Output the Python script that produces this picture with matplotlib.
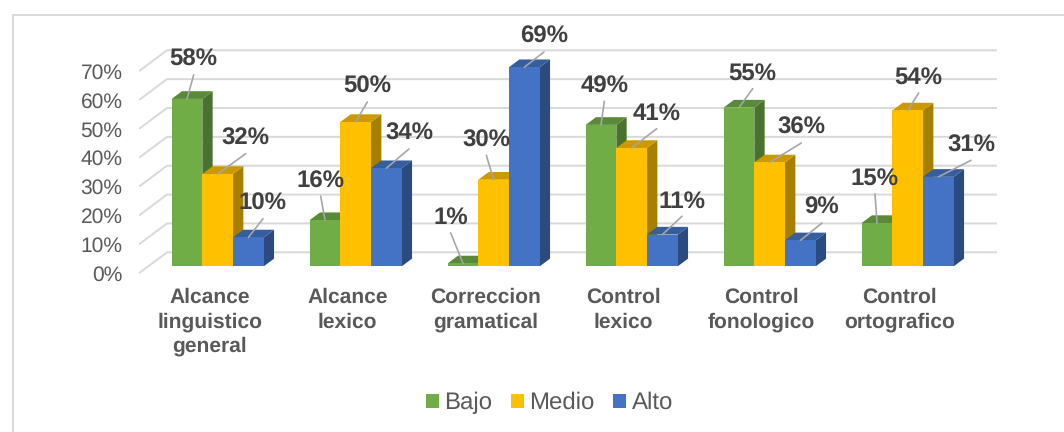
import matplotlib
matplotlib.use("Agg")
import matplotlib.pyplot as plt
from matplotlib.lines import Line2D
from matplotlib.patches import Patch, Polygon
from matplotlib.transforms import Affine2D

plt.rcParams['font.family'] = ['Liberation Sans', 'DejaVu Sans']
plt.rcParams['text.hinting'] = 'no_hinting'
plt.rcParams['text.hinting_factor'] = 1

categories = ["Alcance\nlinguistico\ngeneral", "Alcance\nlexico", "Correccion\ngramatical",
              "Control\nlexico", "Control\nfonologico", "Control\nortografico"]
series_names = ["Bajo", "Medio", "Alto"]
bajo = [58, 16, 1, 49, 55, 15]
medio = [32, 50, 30, 41, 36, 54]
alto = [10, 34, 69, 11, 9, 31]
ticks = [0, 10, 20, 30, 40, 50, 60, 70]

# label offsets from each bar's top centre, in pixels (layout only)
bajo_off = [(6.7, 41), (-4.3, 41), (-12.3, 47.4), (3.3, 40.6), (13.7, 35.9), (-2, 46.3)]
medio_off = [(28, 37.3), (11.6, 37), (-7.4, 41.4), (25, 36.3), (31.6, 36.4), (11, 34.5)]
alto_off = [(14.6, 35.7), (22.6, 36.2), (19.6, 32.2), (19.6, 35.3), (21.6, 34.3), (32.6, 33.5)]

front = ['#70AD47', '#FFC000', '#4472C4']
top = ['#5A8A39', '#CC9A00', '#365D9E']
side = ['#4A722F', '#A67E00', '#2A4A80']
grid = '#D9D9D9'

W, H = 1064, 432
fig = plt.figure(figsize=(W / 100, H / 100), dpi=100)
L, R, T, B = 140, 996, 30, 266.3
ax = fig.add_axes([L / W, 1 - B / H, (R - L) / W, (B - T) / H])
PX_X, PX_Y, C0 = 138.0, 2.886, 217.7
ax.set_xlim((L - C0) / PX_X, (R - C0) / PX_X)
ax.set_ylim(0, (B - T) / PX_Y)
for s in ax.spines.values():
    s.set_visible(False)
ax.patch.set_alpha(0)

bw = 30.7 / PX_X
dx = 10.3 / PX_X
dy = 7.7 / PX_Y
back_y = 14.0 / PX_Y
floor_y = -6.2 / PX_Y
back_x = (167 - C0) / PX_X
floor_x = (140 - C0) / PX_X

for t in ticks:
    ax.plot([floor_x, back_x, ax.get_xlim()[1]], [t + floor_y, t + back_y, t + back_y],
            color=grid, lw=1.4, zorder=1, clip_on=False, solid_joinstyle='miter')

values = [bajo, medio, alto]
offs = [bajo_off, medio_off, alto_off]
for g in range(len(categories)):
    for j in range(3):
        v = values[j][g]
        xc = g + (j - 1) * bw
        x0, x1 = xc - bw / 2, xc + bw / 2
        ax.add_patch(Polygon([(x1, 0), (x1 + dx, dy), (x1 + dx, v + dy), (x1, v)],
                             closed=True, fc=side[j], ec='none', zorder=2 + g + j * 0.1, clip_on=False))
        ax.add_patch(Polygon([(x0, v), (x0 + dx, v + dy), (x1 + dx, v + dy), (x1, v)],
                             closed=True, fc=top[j], ec='none', zorder=2 + g + j * 0.1, clip_on=False))
        ax.bar(xc, v, width=bw, color=front[j], linewidth=0, zorder=2.05 + g + j * 0.1)

for g in range(len(categories)):
    for j in range(3):
        v = values[j][g]
        xc = g + (j - 1) * bw
        ox, oy = offs[j][g]
        ax.annotate("", xy=(xc, v), xytext=(ox, oy - 17), textcoords='offset pixels',
                    arrowprops=dict(arrowstyle='-', color='#A6A6A6', lw=1.2, shrinkA=0, shrinkB=0),
                    annotation_clip=False, zorder=20)
        ax.annotate(f"{v}%", xy=(xc, v), xytext=(ox, oy - 2), textcoords='offset pixels',
                    ha='center', va='center', fontsize=17, fontweight='bold', color='#404040',
                    annotation_clip=False, zorder=21)

ax.set_yticks(ticks)
ax.set_yticklabels([f"{t}%" for t in ticks], fontsize=15.1, color='#595959')
ax.set_xticks(range(len(categories)))
ax.set_xticklabels(categories, fontsize=15.1, fontweight='bold', color='#595959', linespacing=1.32)
ax.tick_params(axis='y', length=0, pad=12.5)
ax.tick_params(axis='x', length=0, pad=15.5)
for lab in ax.get_yticklabels():
    lab.set_transform(lab.get_transform() + Affine2D().translate(0, -6.7))
for lab in ax.get_xticklabels():
    lab.set_transform(lab.get_transform() + Affine2D().translate(-8, 0))

handles = [Patch(fc=c, ec='none', label=n) for c, n in zip(front, series_names)]
fig.legend(handles=handles, loc='center', bbox_to_anchor=(549.5 / W, 1 - 403 / H), ncol=3,
           frameon=False, prop={'size': 17}, labelcolor='#595959', handlelength=0.55,
           handleheight=0.55, handletextpad=0.22, columnspacing=0.8, borderpad=0, borderaxespad=0)

fig.add_artist(Line2D([12.5 / W, 12.5 / W, 1], [0, 1 - 14.5 / H, 1 - 14.5 / H],
                      color=grid, lw=1.4, solid_joinstyle='miter'))
fig.savefig("out.png", dpi=100)
